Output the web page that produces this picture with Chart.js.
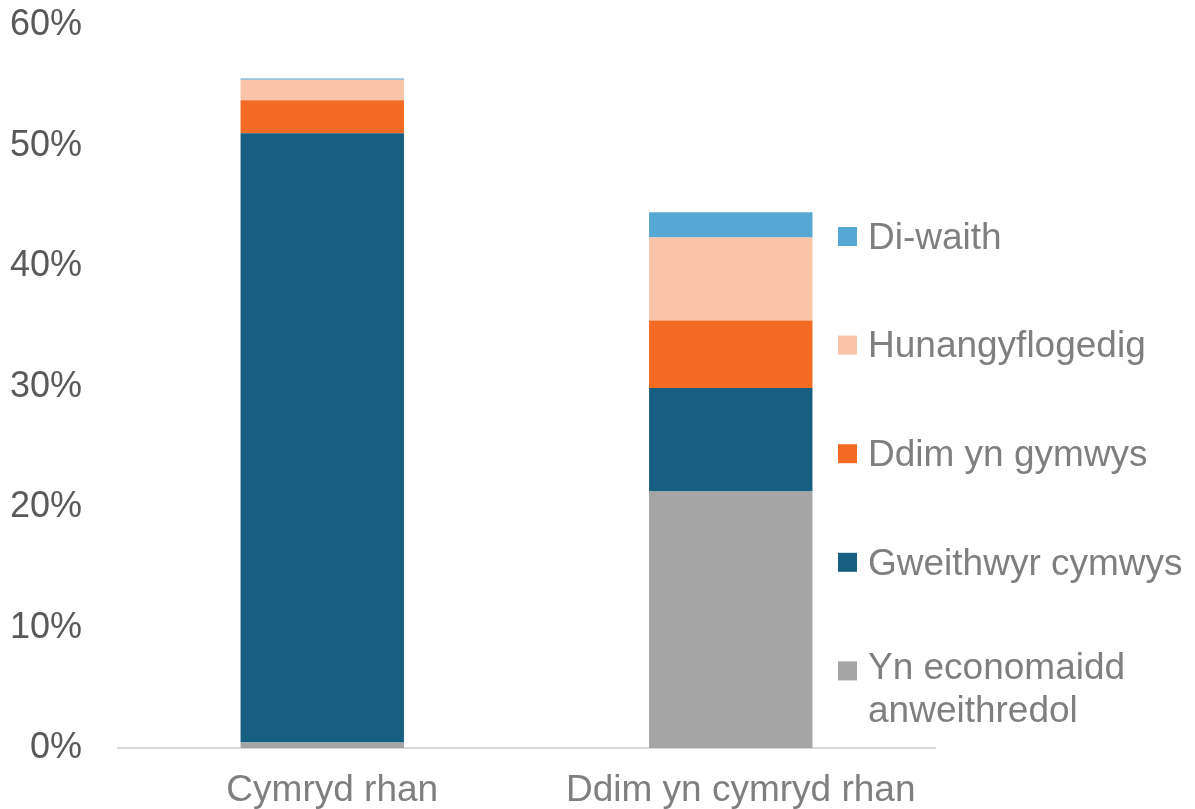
<!DOCTYPE html>
<html>
<head>
<meta charset="utf-8">
<script src="https://cdn.jsdelivr.net/npm/chart.js@4/dist/chart.umd.min.js"></script>
<style>
  html, body { margin: 0; padding: 0; background: #ffffff; }
  #wrap { width: 1195px; height: 809px; position: relative; }
</style>
</head>
<body>
<div id="wrap"><canvas id="c" width="1195" height="809"></canvas></div>
<script>
// ---- Data ----
const categories = ['Cymryd rhan', 'Ddim yn cymryd rhan'];
const seriesLabels = ['Yn economaidd anweithredol', 'Gweithwyr cymwys', 'Ddim yn gymwys', 'Hunangyflogedig', 'Di-waith'];
const inactive = [0.45, 21.3];
const eligibleWorkers = [50.6, 8.6];
const notEligible = [2.75, 5.6];
const selfEmployed = [1.7, 6.9];
const unemployed = [0.1, 2.1];
const yTicks = [0, 10, 20, 30, 40, 50, 60];

const colors = ['#A5A5A5', '#175F80', '#F26A24', '#F9C4AA', '#56A7D4'];
const seriesValues = [inactive, eligibleWorkers, notEligible, selfEmployed, unemployed];

const FONT = '"Liberation Sans", Arial, sans-serif';

const legendPlugin = {
  id: 'customLegend',
  afterDraw(chart) {
    const ctx = chart.ctx;
    const area = chart.chartArea;
    const sqX = area.right - 97;
    const textX = sqX + 30;
    const sq = 19;
    const startY = 236.5;
    const step = 108.6;
    const lineH = 43;
    const maxW = 325;
    ctx.save();
    ctx.font = '37px ' + FONT;
    ctx.textBaseline = 'middle';
    ctx.textAlign = 'left';
    const ds = chart.data.datasets.slice().reverse();
    ds.forEach((d, i) => {
      const cy = startY + i * step;
      ctx.fillStyle = d.backgroundColor;
      ctx.fillRect(sqX, cy - sq / 2, sq, sq);
      const words = d.label.split(' ');
      const lines = [];
      let cur = '';
      words.forEach(w => {
        const t = cur ? cur + ' ' + w : w;
        if (ctx.measureText(t).width > maxW && cur) { lines.push(cur); cur = w; }
        else cur = t;
      });
      if (cur) lines.push(cur);
      ctx.fillStyle = '#7F7F7F';
      const firstY = (lines.length > 1 ? cy - 4 : cy) + 2;
      lines.forEach((ln, j) => ctx.fillText(ln, textX, firstY + j * lineH));
    });
    ctx.restore();
  }
};

new Chart(document.getElementById('c'), {
  type: 'bar',
  data: {
    labels: categories,
    datasets: seriesLabels.map((lab, i) => ({
      label: lab,
      data: seriesValues[i],
      backgroundColor: colors[i],
      borderWidth: 0,
      categoryPercentage: 0.8,
      barPercentage: 0.5
    }))
  },
  options: {
    responsive: false,
    animation: false,
    devicePixelRatio: 1,
    layout: { padding: { left: 0, right: 260, top: 25.5, bottom: 0 } },
    plugins: {
      legend: { display: false },
      tooltip: { enabled: false }
    },
    scales: {
      x: {
        stacked: true,
        grid: { display: false, drawTicks: false },
        border: { display: true, color: '#D9D9D9', width: 2 },
        ticks: {
          color: '#7F7F7F',
          font: { family: FONT, size: 37 },
          padding: 21,
          labelOffset: 10,
          maxRotation: 0
        },
        afterFit(s) { s.height = 61; s.paddingLeft = 0; s.paddingRight = 0; }
      },
      y: {
        stacked: true,
        min: 0,
        max: 60,
        grid: { display: false, drawTicks: false },
        border: { display: false },
        afterBuildTicks(s) { s.ticks = yTicks.map(v => ({ value: v })); },
        ticks: {
          color: '#595959',
          font: { family: FONT, size: 36 },
          padding: 36,
          callback: v => v + '%'
        },
        afterFit(s) { s.width = 118; s.paddingTop = 0; s.paddingBottom = 0; }
      }
    }
  },
  plugins: [legendPlugin]
});
</script>
</body>
</html>
